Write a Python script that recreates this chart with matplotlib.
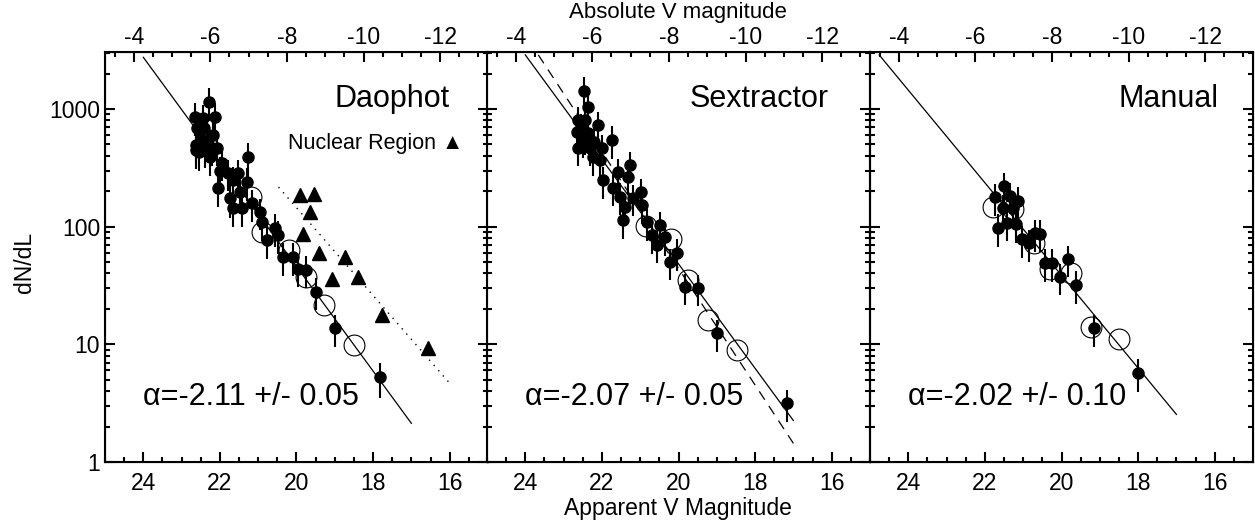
import numpy as np
import matplotlib.pyplot as plt
from matplotlib.ticker import MultipleLocator, LogLocator, NullFormatter

plt.rcParams['font.family'] = ['Liberation Sans', 'DejaVu Sans']

DM = 28.25  # apparent - absolute

# Daophot
dao_m = [22.28, 22.64, 22.44, 22.14, 22.60, 22.42, 22.17, 22.63, 22.63, 22.33, 22.07, 22.25,
         21.26, 21.94, 21.80, 21.52, 21.28, 22.04, 21.65, 21.73, 21.47, 21.41, 21.15, 21.65,
         20.94, 20.90, 20.55, 20.47, 20.76, 20.34, 20.10, 19.95, 19.74, 19.50, 19.00, 17.83,
         22.50, 22.55, 22.38, 22.20, 22.00]
dao_n = [1148, 855, 840, 855, 690, 690, 600, 495, 447, 515, 465, 390,
         390, 347, 285, 285, 240, 213, 248, 174, 196, 144, 158, 144,
         133, 109, 97, 85, 77, 55, 55, 44, 43, 28, 13.7, 5.25,
         560, 430, 450, 470, 300]
dao_err = [360, 260, 250, 260, 210, 210, 180, 150, 135, 155, 140, 120,
           125, 105, 85, 85, 75, 65, 75, 55, 60, 45, 48, 45,
           40, 33, 30, 26, 24, 17, 17, 13, 13, 8.5, 4.2, 1.75,
           170, 130, 135, 140, 90]
dao_open_m = [21.20, 20.90, 20.20, 19.76, 19.29, 18.50]
dao_open_n = [178, 90, 63, 37, 21.5, 9.8]
dao_fit_m = [24.0, 17.0]
dao_fit_n = [2750, 2.13]

# nuclear region (Daophot)
nuc_m = [19.92, 19.55, 19.66, 19.82, 19.40, 18.74, 19.08, 18.40, 17.77, 16.57]
nuc_n = [185, 189, 133, 86, 60, 55, 36, 37, 17.7, 9.25]
nuc_fit_m = [20.47, 16.02]
nuc_fit_n = [217, 4.75]

# Sextractor
sex_m = [22.48, 22.37, 22.62, 22.43, 22.09, 22.64, 21.73, 22.62, 22.30, 21.99, 22.43, 22.22,
         22.04, 21.26, 21.57, 21.96, 21.31, 21.70, 20.99, 21.52, 21.18, 20.94, 21.39, 21.44,
         20.81, 20.47, 20.68, 20.34, 20.55, 20.03, 20.21, 19.82, 19.50, 19.00, 17.17,
         22.55, 22.50, 22.35, 22.20]
sex_n = [1432, 1046, 806, 806, 727, 635, 543, 466, 466, 466, 575, 390,
         367, 334, 290, 248, 264, 213, 196, 179, 175, 152, 147, 114,
         109, 103, 85, 81, 70, 60, 50, 30.5, 30, 12.4, 3.15,
         700, 550, 620, 520]
sex_err = [430, 310, 240, 240, 220, 190, 170, 140, 140, 140, 170, 120,
           110, 100, 87, 75, 80, 64, 60, 54, 53, 46, 44, 35,
           33, 31, 26, 25, 21, 18, 15, 9, 9, 3.8, 0.95,
           210, 165, 185, 155]
sex_open_m = [20.85, 20.20, 19.74, 19.24, 18.48]
sex_open_n = [101, 78, 35, 16, 8.9]
sex_fit_m = [24.0, 17.0]
sex_fit_n = [2880, 2.25]
sex_fit2_m = [23.66, 17.0]
sex_fit2_n = [2880, 1.44]

# Manual
man_m = [21.49, 21.73, 21.34, 21.13, 21.54, 21.26, 21.65, 21.41, 21.18, 21.02, 20.86, 20.68,
         20.55, 20.42, 20.24, 19.84, 20.05, 19.61, 19.14, 18.01]
man_n = [221, 177, 182, 166, 144, 144, 97, 107, 105, 78, 72.5, 88,
         87, 49, 49, 53, 37, 32, 13.7, 5.7]
man_err = [65, 53, 55, 50, 43, 43, 30, 32, 32, 24, 22, 27,
           26, 15, 15, 16, 11, 10, 4.2, 1.8]
man_open_m = [21.78, 21.26, 20.73, 20.29, 19.76, 19.24, 18.51]
man_open_n = [147, 140, 72, 44, 40, 14, 11]
man_fit_m = [24.76, 17.0]
man_fit_n = [2880, 2.54]

fig = plt.figure(figsize=(12.55, 5.27), dpi=100)

lefts = [105, 487, 870]
W, H = 1255, 527
axes = []
for i, l in enumerate(lefts):
    ax = fig.add_axes([l / W, 65 / H, 383 / W, 410 / H])
    ax.set_yscale('log')
    ax.set_xlim(25, 15)
    ax.set_ylim(1, 3050)
    ax.xaxis.set_major_locator(MultipleLocator(2))
    ax.xaxis.set_minor_locator(MultipleLocator(0.5))
    ax.yaxis.set_major_locator(LogLocator(10))
    ax.yaxis.set_minor_locator(LogLocator(10, subs=np.arange(2, 10)))
    ax.yaxis.set_minor_formatter(NullFormatter())
    ax.set_yticks([1, 10, 100, 1000])
    ax.set_yticklabels(['1', '10', '100', '1000'])
    ax.tick_params(which='both', direction='in', top=False, right=True, width=1.5,
                   labelsize=16.5)
    ax.tick_params(which='major', length=7)
    ax.tick_params(which='minor', length=3.5)
    ax.tick_params(axis='x', pad=7)
    if i > 0:
        ax.tick_params(axis='y', labelleft=False)
    for s in ax.spines.values():
        s.set_linewidth(1.5)
    top = ax.twiny()
    top.set_xlim(25 - DM, 15 - DM)
    top.xaxis.set_major_locator(MultipleLocator(2))
    top.xaxis.set_minor_locator(MultipleLocator(0.5))
    top.set_xticks([-4, -6, -8, -10, -12])
    top.set_xticklabels(['-4', '-6', '-8', '-10', '-12'])
    top.tick_params(which='both', direction='in', width=1.5, labelsize=16.5, pad=2.5)
    top.tick_params(which='major', length=7)
    top.tick_params(which='minor', length=3.5)
    axes.append(ax)

ebkw = dict(fmt='o', color='k', ms=8, elinewidth=1.5, capsize=0, zorder=3)
okw = dict(ls='none', marker='o', mfc='none', mec='k', ms=15, mew=0.8, zorder=2)

ax = axes[0]
ax.plot(dao_fit_m, dao_fit_n, color='k', lw=0.9)
ax.plot(nuc_fit_m, nuc_fit_n, color='k', lw=1, ls=(0, (1, 4)))
ax.plot(dao_open_m, dao_open_n, **okw)
ax.errorbar(dao_m, dao_n, yerr=dao_err, **ebkw)
ax.plot(nuc_m, nuc_n, '^', color='k', ms=10)
ax.text(0.90, 0.885, 'Daophot', transform=ax.transAxes, ha='right', va='center', fontsize=22)
ax.text(0.935, 0.778, 'Nuclear Region \u25b2', transform=ax.transAxes, ha='right',
        va='center', fontsize=15.5)
ax.text(0.099, 0.159, '\u03b1=-2.11 +/- 0.05', transform=ax.transAxes, ha='left',
        va='center', fontsize=22)

ax = axes[1]
ax.plot(sex_fit_m, sex_fit_n, color='k', lw=0.9)
ax.plot(sex_fit2_m, sex_fit2_n, color='k', lw=0.9, dashes=(8, 6))
ax.plot(sex_open_m, sex_open_n, **okw)
ax.errorbar(sex_m, sex_n, yerr=sex_err, **ebkw)
ax.text(0.893, 0.885, 'Sextractor', transform=ax.transAxes, ha='right', va='center', fontsize=22)
ax.text(0.10, 0.159, '\u03b1=-2.07 +/- 0.05', transform=ax.transAxes, ha='left',
        va='center', fontsize=22)

ax = axes[2]
ax.plot(man_fit_m, man_fit_n, color='k', lw=0.9)
ax.plot(man_open_m, man_open_n, **okw)
ax.errorbar(man_m, man_n, yerr=man_err, **ebkw)
ax.text(0.911, 0.885, 'Manual', transform=ax.transAxes, ha='right', va='center', fontsize=22)
ax.text(0.099, 0.159, '\u03b1=-2.02 +/- 0.10', transform=ax.transAxes, ha='left',
        va='center', fontsize=22)

fig.text(678 / W, 1 - 508 / H, 'Apparent V Magnitude', ha='center', va='center', fontsize=16.5)
fig.text(678 / W, 1 - 2 / H, 'Absolute V magnitude', ha='center', va='top', fontsize=16)
fig.text(25 / W, 1 - 262 / H, 'dN/dL', ha='center', va='center', rotation=90, fontsize=16.5)

fig.savefig('out.png', dpi=100)
